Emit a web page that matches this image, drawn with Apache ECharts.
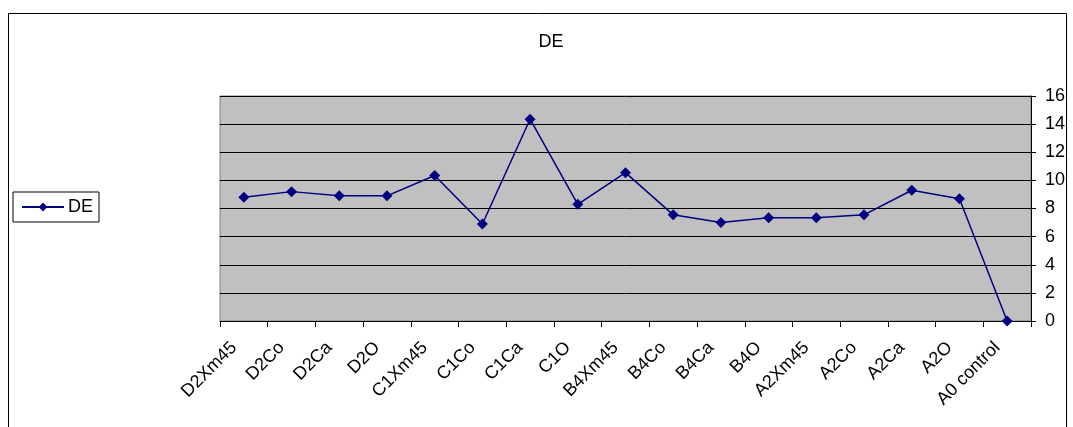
<!DOCTYPE html>
<html lang="en">
<head>
    <meta charset="UTF-8">
    <title>DE</title>
    <script src="https://cdn.jsdelivr.net/npm/echarts@6/dist/echarts.min.js"></script>
    <style>
        body { margin: 0; background: #fff; }
        #main { width: 1073px; height: 427px; }
    </style>
</head>
<body>
    <div id="main"></div>
    <script>
        // categories along the x axis
        const categories = ['D2Xm45', 'D2Co', 'D2Ca', 'D2O', 'C1Xm45', 'C1Co', 'C1Ca', 'C1O',
            'B4Xm45', 'B4Co', 'B4Ca', 'B4O', 'A2Xm45', 'A2Co', 'A2Ca', 'A2O', 'A0 control'];
        // DE values
        const deValues = [8.8, 9.2, 8.9, 8.9, 10.35, 6.9, 14.35, 8.3,
            10.55, 7.55, 7.0, 7.35, 7.35, 7.55, 9.3, 8.7, 0];
        const yTicks = { min: 0, max: 16, step: 2 };

        const font = 'Arial, "Liberation Sans", sans-serif';
        const chart = echarts.init(document.getElementById('main'));

        chart.setOption({
            animation: false,
            textStyle: { fontFamily: font, color: '#000' },
            // outer chart frame (runs off the bottom of the picture)
            graphic: [{
                type: 'rect',
                shape: { x: 8.5, y: 13.5, width: 1058, height: 500 },
                style: { fill: 'none', stroke: '#000', lineWidth: 1 },
                silent: true
            }],
            title: {
                text: 'DE',
                left: 546,
                top: 28,
                textAlign: 'center',
                textStyle: { fontSize: 18, fontWeight: 'normal', color: '#000', fontFamily: font }
            },
            legend: {
                left: 13,
                top: 192,
                orient: 'vertical',
                borderColor: '#000',
                borderWidth: 1,
                padding: [6, 6, 6, 8],
                itemWidth: 42,
                itemHeight: 11,
                itemGap: 0,
                textStyle: { fontSize: 18, color: '#000', fontFamily: font, padding: [0, 0, 0, -1] },
                data: ['DE']
            },
            grid: {
                left: 220,
                right: 42,
                top: 96,
                bottom: 106,
                show: true,
                backgroundColor: '#c0c0c0',
                borderColor: '#808080',
                borderWidth: 1
            },
            xAxis: {
                type: 'category',
                data: categories,
                boundaryGap: true,
                axisLine: { lineStyle: { color: '#000', width: 1 } },
                axisTick: { show: true, interval: 0, length: 6, lineStyle: { color: '#000' } },
                axisLabel: {
                    interval: 0,
                    rotate: 45,
                    fontSize: 18,
                    color: '#000',
                    fontFamily: font,
                    margin: 14,
                    padding: [0, 14, 0, 0]
                },
                splitLine: { show: false }
            },
            yAxis: {
                type: 'value',
                position: 'right',
                min: yTicks.min,
                max: yTicks.max,
                interval: yTicks.step,
                axisLine: { show: true, lineStyle: { color: '#000', width: 1 } },
                axisTick: { show: true, length: 5, lineStyle: { color: '#000' } },
                axisLabel: { fontSize: 18, color: '#000', fontFamily: font, margin: 14 },
                splitLine: { show: true, lineStyle: { color: '#000', width: 1 } }
            },
            series: [{
                name: 'DE',
                type: 'line',
                data: deValues,
                symbol: 'diamond',
                symbolSize: 11,
                showAllSymbol: true,
                lineStyle: { color: '#000080', width: 1.5 },
                itemStyle: { color: '#000080' }
            }]
        });
    </script>
</body>
</html>
